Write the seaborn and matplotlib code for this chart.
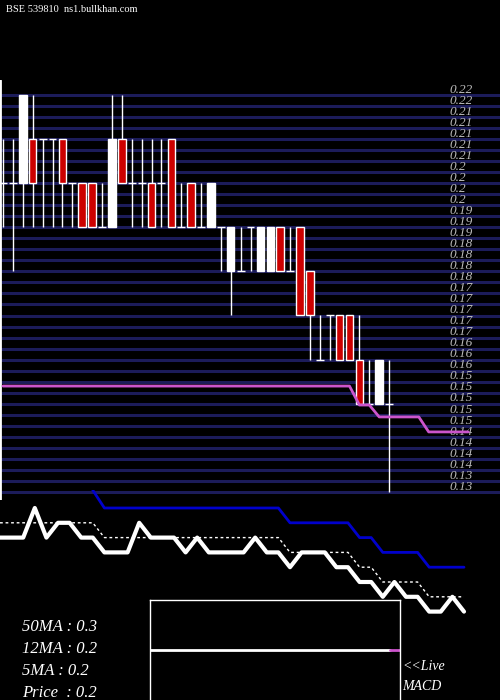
import matplotlib
matplotlib.use("Agg")
import matplotlib.pyplot as plt
import seaborn as sns
import numpy as np
import pandas as pd

sns.set_style("dark", {"axes.facecolor": "black", "figure.facecolor": "black"})
plt.rcParams['font.family'] = ['Liberation Serif', 'DejaVu Serif']

opens  = [.20,.20,.20,.21,.21,.21,.21,.20,.20,.20,.19,.19,.21,.20,.20,.20,.20,.21,.19,.20,.19,.19,.19,.18,.18,
          .19,.18,.18,.19,.18,.19,.18,.16,.17,.17,.17,.16,.15,.15,.15]
closes = [.20,.20,.22,.20,.21,.21,.20,.20,.19,.19,.19,.21,.20,.20,.20,.19,.20,.19,.19,.19,.19,.20,.19,.19,.18,
          .19,.19,.19,.18,.18,.17,.17,.16,.17,.16,.16,.15,.15,.16,.15]
highs  = [.21,.21,.22,.22,.21,.21,.21,.20,.20,.20,.20,.22,.22,.21,.21,.21,.21,.21,.20,.20,.20,.20,.19,.19,.19,
          .19,.19,.19,.19,.19,.19,.18,.17,.17,.17,.17,.17,.16,.16,.16]
lows   = [.19,.18,.19,.19,.19,.19,.19,.19,.19,.19,.19,.19,.20,.19,.19,.19,.19,.19,.19,.19,.19,.19,.18,.17,.18,
          .18,.18,.18,.18,.18,.17,.16,.16,.16,.16,.16,.15,.15,.15,.13]
ma_line = [.154]*36 + [.1497,.1497,.147,.147,.147,.147,.147,.1436,.1436,.1436,.1436,.1436]

osc_fast = [2,2,2,0,2,1,1,2,2,3,3,3,1,2,2,2,3,2,3,3,3,3,2,3,3,4,3,3,3,4,4,5,5,6,5,6,6,7,7,6,7]
osc_slow = [1]*9 + [2]*16 + [3]*6 + [4]*2 + [5]*4 + [6]*4
osc_sig_x = list(range(8, 41))
osc_sig = [-1.2] + [0]*16 + [1]*6 + [2]*2 + [3]*4 + [4]*4

grid_levels = [0.22 - 0.0025*i for i in range(37)]
info = ["50MA : 0.3", "12MA : 0.2", "5MA : 0.2", "Price  : 0.2"]

STEP = 9.9
fig = plt.figure(figsize=(5, 7), dpi=100)
fig.patch.set_facecolor("black")

ax = fig.add_axes([0, 200/700, 1, 420/700])
ax.set_facecolor("black")
ax.set_ylim(0.22 - 405/4410, 0.22 + 15/4410)
ax.set_xlim(-3/STEP, 497/STEP)
for g in grid_levels:
    ax.axhline(g, color="#1c1c5a", lw=2.2, zorder=1)
    lab = f"{g:.2f}".rstrip("0")
    ax.text(449/STEP - 3/STEP, g + 0.0005, lab, color="#bbbbbb", fontsize=9.5, style="italic", zorder=2)
xs = np.arange(len(opens))
for i in xs:
    o, c, h, l = opens[i], closes[i], highs[i], lows[i]
    ax.vlines(i, l, h, color="white", lw=1, zorder=3)
    if abs(o - c) < 1e-9:
        ax.hlines(o, i - 0.4, i + 0.4, color="white", lw=1, zorder=3)
    else:
        col = "white" if c > o else "#cc0000"
        ax.bar(i, abs(c - o), bottom=min(o, c), width=0.75, color=col,
               edgecolor="white", linewidth=1, zorder=4)
sns.lineplot(x=np.arange(len(ma_line)), y=ma_line, ax=ax, color="#cc55cc", lw=2, zorder=5)
ax.axvline(-0.3, color="white", lw=2)
ax.set_xticks([]); ax.set_yticks([])
for s in ax.spines.values():
    s.set_visible(False)

ax2 = fig.add_axes([0, 80/700, 1, 130/700])
ax2.patch.set_alpha(0)
ax2.set_xlim(0, 500/11.6)
ax2.set_ylim((620-508)/14.8, (490-508)/14.8)
sns.lineplot(x=np.arange(len(osc_slow)), y=osc_slow, ax=ax2, color="white", lw=1, linestyle=(0, (2, 2)))
sns.lineplot(x=osc_sig_x, y=osc_sig, ax=ax2, color="#0000cc", lw=2)
sns.lineplot(x=np.arange(len(osc_fast)), y=osc_fast, ax=ax2, color="white", lw=3)
ax2.set_xticks([]); ax2.set_yticks([])
for s in ax2.spines.values():
    s.set_visible(False)

ax3 = fig.add_axes([150/500, 0, 250/500, 100/700])
ax3.set_facecolor("black")
ax3.set_xlim(0, 250); ax3.set_ylim(0, 100)
ax3.plot([0, 240], [50, 50], color="white", lw=2)
ax3.plot([240, 250], [50, 50], color="#cc55cc", lw=2)
ax3.set_xticks([]); ax3.set_yticks([])
for s in ax3.spines.values():
    s.set_color("white"); s.set_linewidth(1)
ax3.spines["bottom"].set_visible(False)

fig.text(402/500, 1 - 667/700, "<<Live", color="white", fontsize=10, style="italic", va="center")
fig.text(402/500, 1 - 686/700, "MACD", color="white", fontsize=10, style="italic", va="center")
for k, t in enumerate(info):
    fig.text(22/500, 1 - (627 + 22*k)/700, t, color="white", fontsize=12, style="italic", va="center")
fig.text(6/500, 1 - 10/700, "BSE 539810  ns1.bullkhan.com", color="white", fontsize=7.5, va="center")

fig.savefig("out.png", facecolor="black")
